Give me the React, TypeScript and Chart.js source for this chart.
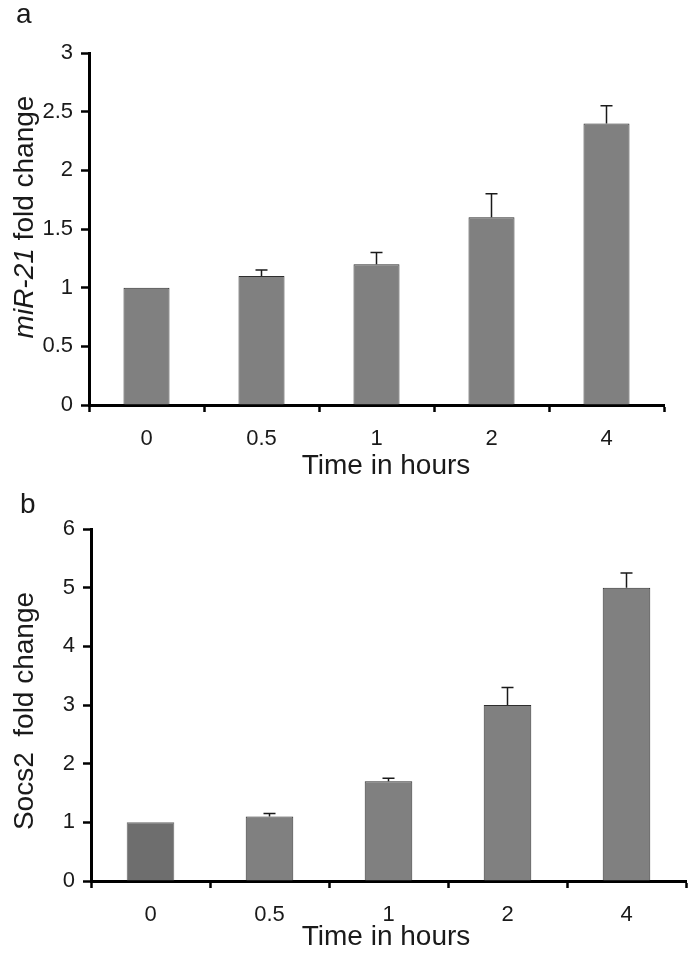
import React, { useEffect, useRef } from 'react';
import { Chart, registerables } from 'chart.js';

Chart.register(...registerables);

const hours = ['0', '0.5', '1', '2', '4'];

const mir21Fold = [1, 1.1, 1.2, 1.6, 2.4];
const mir21Err = [0, 0.05, 0.1, 0.2, 0.15];
const mir21Ticks = [0, 0.5, 1, 1.5, 2, 2.5, 3];

const socs2Fold = [1, 1.1, 1.7, 3, 5];
const socs2Err = [0, 0.05, 0.05, 0.3, 0.25];
const socs2Ticks = [0, 1, 2, 3, 4, 5, 6];

const FONT = '"Liberation Sans", Arial, sans-serif';
const INK = '#1a1a1a';

type TitlePart = { text: string; italic?: boolean };

type PanelProps = {
  values: number[];
  errors: number[];
  ticks: number[];
  fills: string[];
  borders: string[];
  height: number;
  top: number;
  right: number;
  yAxisWidth: number;
  xAxisHeight: number;
  letter: string;
  letterX: number;
  letterY: number;
  yTitle: TitlePart[];
  yTitleX: number;
  yTitleY: number;
  xTitleX: number;
  xTitleY: number;
};

// whiskers above each bar (upper error only)
const makeErrorBars = (errors: number[]) => ({
  id: 'errorBars',
  afterDatasetsDraw(chart: any) {
    const { ctx } = chart;
    const meta = chart.getDatasetMeta(0);
    const y = chart.scales.y;
    const data = chart.data.datasets[0].data as number[];
    ctx.save();
    ctx.strokeStyle = INK;
    ctx.lineWidth = 1.5;
    meta.data.forEach((bar: any, i: number) => {
      const err = errors[i];
      if (!err) return;
      const top = y.getPixelForValue(data[i]);
      const tip = y.getPixelForValue(data[i] + err);
      ctx.beginPath();
      ctx.moveTo(bar.x, top);
      ctx.lineTo(bar.x, tip);
      ctx.moveTo(bar.x - 6, tip);
      ctx.lineTo(bar.x + 6, tip);
      ctx.stroke();
    });
    ctx.restore();
  },
});

// panel letter, rotated y title with mixed italics, x title
const makeLabels = (p: PanelProps) => ({
  id: 'panelLabels',
  afterDraw(chart: any) {
    const { ctx } = chart;
    ctx.save();
    ctx.fillStyle = INK;
    ctx.textBaseline = 'alphabetic';

    ctx.font = `28px ${FONT}`;
    ctx.textAlign = 'left';
    ctx.fillText(p.letter, p.letterX, p.letterY);

    ctx.textAlign = 'center';
    ctx.fillText('Time in hours', p.xTitleX, p.xTitleY);

    ctx.translate(p.yTitleX, p.yTitleY);
    ctx.rotate(-Math.PI / 2);
    ctx.textAlign = 'left';
    const fontFor = (part: TitlePart) => `${part.italic ? 'italic ' : ''}28px ${FONT}`;
    let total = 0;
    p.yTitle.forEach((part) => {
      ctx.font = fontFor(part);
      total += ctx.measureText(part.text).width;
    });
    let x = -total / 2;
    p.yTitle.forEach((part) => {
      ctx.font = fontFor(part);
      ctx.fillText(part.text, x, 0);
      x += ctx.measureText(part.text).width;
    });
    ctx.restore();
  },
});

const Panel: React.FC<PanelProps> = (p) => {
  const chartRef = useRef<HTMLCanvasElement | null>(null);
  const chartInstanceRef = useRef<Chart | null>(null);

  useEffect(() => {
    if (!chartRef.current) return;
    if (chartInstanceRef.current) chartInstanceRef.current.destroy();

    chartInstanceRef.current = new Chart(chartRef.current, {
      type: 'bar',
      data: {
        labels: hours,
        datasets: [
          {
            data: p.values,
            backgroundColor: p.fills,
            borderColor: p.borders,
            borderWidth: 1,
            barPercentage: 0.4,
            categoryPercentage: 1,
          },
        ],
      },
      options: {
        animation: false,
        responsive: true,
        maintainAspectRatio: false,
        layout: { padding: { left: 0, top: p.top, right: p.right, bottom: 0 } },
        plugins: {
          legend: { display: false },
          tooltip: { enabled: false },
        },
        scales: {
          x: {
            afterFit: (scale: any) => {
              scale.height = p.xAxisHeight;
            },
            border: { display: true, color: '#000', width: 3 },
            grid: {
              display: true,
              drawOnChartArea: false,
              drawTicks: true,
              tickLength: 7,
              tickWidth: 2.5,
              tickColor: '#000',
            },
            ticks: {
              color: INK,
              padding: 14,
              font: { size: 22, family: FONT },
            },
          },
          y: {
            min: p.ticks[0],
            max: p.ticks[p.ticks.length - 1],
            afterFit: (scale: any) => {
              scale.width = p.yAxisWidth;
            },
            afterBuildTicks: (scale: any) => {
              scale.ticks = p.ticks.map((v) => ({ value: v }));
            },
            border: { display: true, color: '#000', width: 3 },
            grid: {
              display: true,
              drawOnChartArea: false,
              drawTicks: true,
              tickLength: 8,
              tickWidth: 2.5,
              tickColor: '#000',
            },
            ticks: {
              color: INK,
              padding: 8,
              font: { size: 22, family: FONT },
              callback: (v: any) => String(v),
            },
          },
        },
      },
      plugins: [makeErrorBars(p.errors), makeLabels(p)],
    });

    return () => {
      if (chartInstanceRef.current) {
        chartInstanceRef.current.destroy();
        chartInstanceRef.current = null;
      }
    };
  }, []);

  return (
    <div style={{ position: 'relative', width: 693, height: p.height }}>
      <canvas ref={chartRef}></canvas>
    </div>
  );
};

const App: React.FC = () => (
  <div style={{ position: 'absolute', left: 0, top: 0, width: 693, height: 953, background: '#fff' }}>
    <Panel
      values={mir21Fold}
      errors={mir21Err}
      ticks={mir21Ticks}
      fills={hours.map(() => '#808080')}
      borders={hours.map(() => '#2e2e2e')}
      height={476}
      top={53}
      right={29}
      yAxisWidth={89}
      xAxisHeight={71}
      letter="a"
      letterX={16}
      letterY={23}
      yTitle={[{ text: 'miR-21', italic: true }, { text: ' fold change' }]}
      yTitleX={33}
      yTitleY={217}
      xTitleX={386}
      xTitleY={474}
    />
    <Panel
      values={socs2Fold}
      errors={socs2Err}
      ticks={socs2Ticks}
      fills={['#6e6e6e', '#808080', '#808080', '#808080', '#808080']}
      borders={['#686868', '#2e2e2e', '#2e2e2e', '#2e2e2e', '#2e2e2e']}
      height={477}
      top={53}
      right={7}
      yAxisWidth={91}
      xAxisHeight={72}
      letter="b"
      letterX={20}
      letterY={37}
      yTitle={[{ text: 'Socs2  fold change' }]}
      yTitleX={33}
      yTitleY={235}
      xTitleX={386}
      xTitleY={469}
    />
  </div>
);

export default App;
